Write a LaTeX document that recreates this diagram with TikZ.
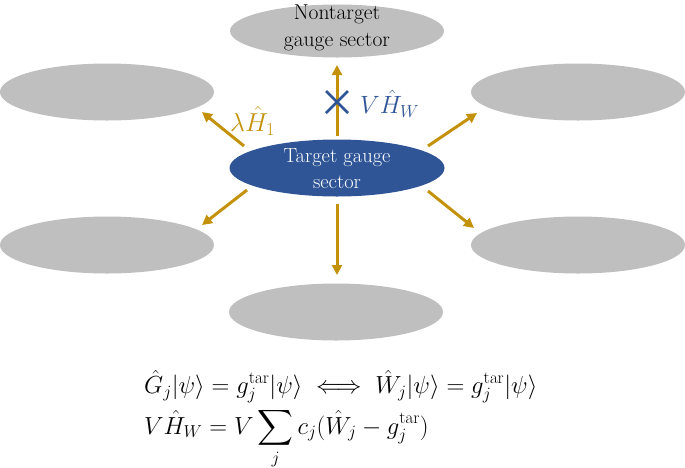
\RequirePackage{fix-cm}
\documentclass[tikz,border=0pt]{standalone}
\usepackage{amsmath}
\usetikzlibrary{arrows.meta,shapes.geometric}
\definecolor{gold}{RGB}{196,146,10}
\definecolor{tblue}{RGB}{47,85,151}
\definecolor{lgray}{RGB}{191,191,191}
\begin{document}
\begin{tikzpicture}[x=1pt,y=-1pt,
  sect/.style={ellipse,fill=lgray,minimum width=214pt,minimum height=57pt,inner sep=0pt},
  arr/.style={gold,line width=3pt,-{Triangle[length=10pt,width=10pt]}}]
\useasboundingbox (0,0) rectangle (685,467);
\node[sect,minimum height=53pt] (top) at (337,31) {};
\node[align=center,font=\fontsize{21.5}{27}\selectfont] (toptxt) at (337,28) {Nontarget\\gauge sector};
\node[sect] (lt) at (107,92) {};
\node[sect] (rt) at (578,92) {};
\node[sect] (lb) at (107,245) {};
\node[sect] (rb) at (578,245) {};
\node[sect] (bot) at (336,312) {};
\node[sect,fill=tblue,minimum width=215pt] (tar) at (337,168) {};
\node[align=center,text=white,font=\fontsize{20.5}{26}\selectfont] (tartxt) at (337,169) {Target gauge\\sector};
\coordinate (aup) at (337,65);
\coordinate (alt) at (202,112);
\coordinate (art) at (477,113);
\coordinate (alb) at (202,225);
\coordinate (arb) at (474,228);
\coordinate (adn) at (337,275);
\draw[arr] (337,136) -- (aup);
\draw[arr] (244,146) -- (alt);
\draw[arr] (428,146) -- (art);
\draw[arr] (247,190) -- (alb);
\draw[arr] (428,191) -- (arb);
\draw[arr] (337,204) -- (adn);
\coordinate (cross) at (337,102);
\draw[tblue,line width=2.8pt] (326,91) -- (348,113) (326,113) -- (348,91);
\node[tblue,anchor=west,inner sep=0pt,font=\fontsize{25}{28}\selectfont] (vh) at (360,104) {$V\hat H_W$};
\node[gold,anchor=west,inner sep=0pt,font=\fontsize{26}{28}\selectfont] (lh) at (230,121) {$\lambda\hat H_1$};
\node[anchor=north west,font=\fontsize{24.7}{29}\selectfont,inner sep=0pt] (eq) at (144,370) {$\begin{aligned}
&\hat G_j|\psi\rangle = g_j^{\mathrm{tar}}|\psi\rangle \iff \hat W_j|\psi\rangle = g_j^{\mathrm{tar}}|\psi\rangle\\[1pt]
&V\hat H_W = V\sum_j c_j(\hat W_j - g_j^{\mathrm{tar}})
\end{aligned}$};
\end{tikzpicture}
\end{document}
